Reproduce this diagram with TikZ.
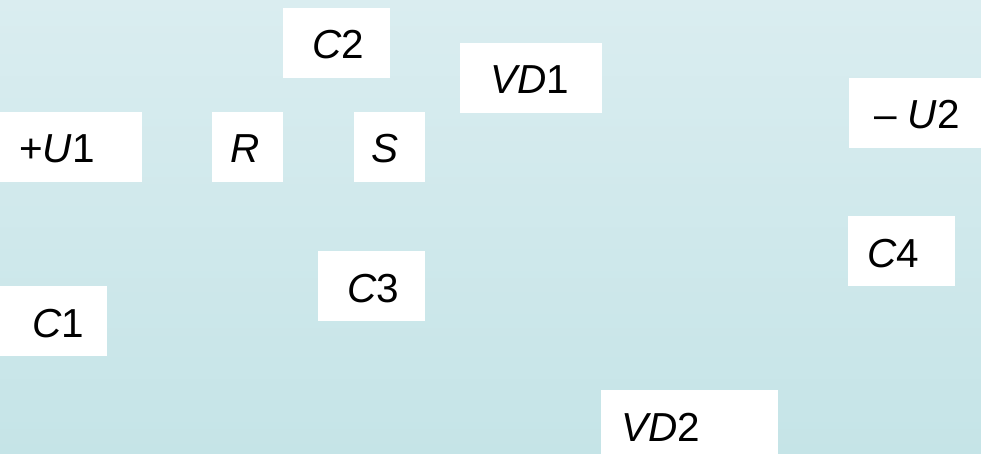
\documentclass[tikz,border=0pt]{standalone}
\usepackage{fontspec}
\setmainfont{Liberation Sans}
\definecolor{bgtop}{HTML}{DAEDF0}
\definecolor{bgbot}{HTML}{C5E4E7}
\tikzset{
  box/.style={fill=white, draw=none, inner sep=0pt, anchor=north west},
  lbl/.style={inner sep=0pt, anchor=base west, font=\fontsize{40.5}{48}\selectfont, text=black},
}
\begin{document}
\begin{tikzpicture}[x=1pt,y=-1pt]
  \useasboundingbox (0,0) rectangle (981,454);
  \shade[top color=bgtop, bottom color=bgbot] (0,0) rectangle (981,454);
  % boxes
  \node[box, minimum width=107pt, minimum height=70pt] (bC2) at (283,8) {};
  \node[box, minimum width=142pt, minimum height=70pt] (bVD1) at (460,43) {};
  \node[box, minimum width=142pt, minimum height=70pt] (bU1) at (0,112) {};
  \node[box, minimum width=71pt, minimum height=70pt] (bR) at (212,112) {};
  \node[box, minimum width=71pt, minimum height=70pt] (bS) at (354,112) {};
  \node[box, minimum width=132pt, minimum height=70pt] (bU2) at (849,78) {};
  \node[box, minimum width=107pt, minimum height=70pt] (bC4) at (848,216) {};
  \node[box, minimum width=107pt, minimum height=70pt] (bC1) at (0,286) {};
  \node[box, minimum width=107pt, minimum height=70pt] (bC3) at (318,251) {};
  \node[box, minimum width=177pt, minimum height=64pt] (bVD2) at (601,390) {};
  % labels
  \node[lbl] (tC2) at (312,59) {\textit{C}2};
  \node[lbl] (tVD1) at (490,94) {\textit{VD}1};
  \node[lbl] (tU1) at (19,163) {+\textit{U}1};
  \node[lbl] (tR) at (230,163) {\textit{R}};
  \node[lbl] (tS) at (371,163) {\textit{S}};
  \node[lbl] (tU2) at (874,129) {– \textit{U}2};
  \node[lbl] (tC4) at (867,267) {\textit{C}4};
  \node[lbl] (tC1) at (32,337) {\textit{C}1};
  \node[lbl] (tC3) at (347,302) {\textit{C}3};
  \node[lbl] (tVD2) at (621,441) {\textit{VD}2};
\end{tikzpicture}
\end{document}
